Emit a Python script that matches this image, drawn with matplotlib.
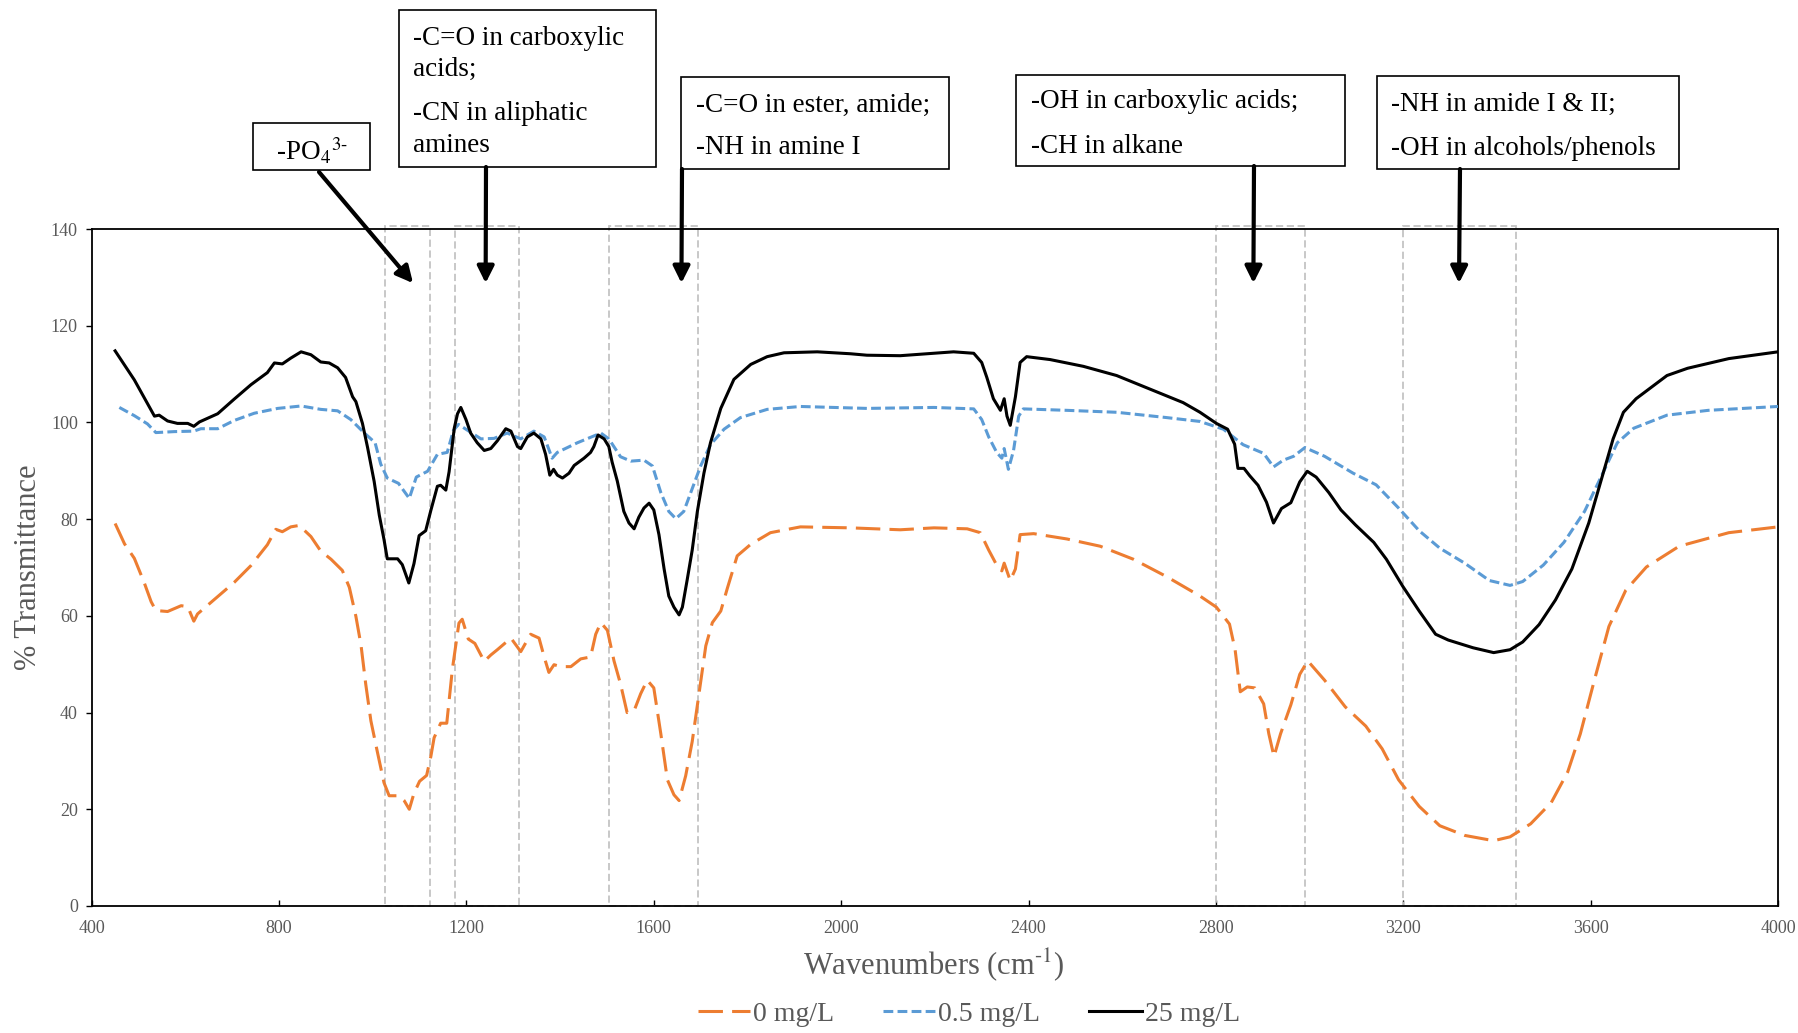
import matplotlib
matplotlib.use("Agg")
import matplotlib.pyplot as plt
from matplotlib.patches import Rectangle

plt.rcParams['font.family'] = ['Liberation Serif', 'DejaVu Serif']
plt.rcParams['mathtext.fontset'] = 'stix'

# ---------------- data ----------------
black_wn = [450, 491, 534, 544, 562, 583, 605, 618, 630, 669, 704, 740, 775, 790, 807, 825, 847, 868, 889, 907,
            925, 942, 957, 964, 978, 989, 1003, 1014, 1024, 1031, 1053, 1063, 1077, 1088, 1099, 1113, 1124, 1138,
            1145, 1156, 1163, 1174, 1181, 1188, 1199, 1209, 1223, 1238, 1252, 1266, 1284, 1295, 1309, 1316, 1330,
            1344, 1359, 1369, 1378, 1386, 1394, 1405, 1419, 1430, 1451, 1465, 1472, 1481, 1494, 1504, 1511, 1522,
            1536, 1547, 1558, 1568, 1579, 1590, 1600, 1611, 1622, 1632, 1643, 1654, 1661, 1671, 1682, 1693, 1707,
            1721, 1743, 1771, 1807, 1842, 1878, 1949, 2020, 2055, 2126, 2198, 2240, 2283, 2300, 2311, 2325, 2340,
            2348, 2354, 2361, 2372, 2382, 2396, 2446, 2517, 2588, 2659, 2730, 2766, 2801, 2825, 2840, 2847, 2860,
            2872, 2890, 2908, 2923, 2940, 2960, 2979, 2995, 3014, 3041, 3067, 3098, 3137, 3164, 3199, 3234, 3269,
            3296, 3349, 3393, 3428, 3455, 3490, 3525, 3560, 3596, 3622, 3648, 3670, 3697, 3763, 3807, 3895, 4000]
black_T = [114.8, 108.8, 101.3, 101.5, 100.3, 99.8, 99.8, 99.2, 100.1, 101.8, 104.8, 107.8, 110.3, 112.3, 112.1,
           113.3, 114.6, 114.0, 112.5, 112.3, 111.3, 109.3, 105.3, 104.3, 99.8, 94.8, 87.8, 80.8, 75.8, 71.8, 71.8,
           70.6, 66.8, 70.8, 76.6, 77.6, 81.8, 86.8, 87.0, 86.0, 89.8, 98.8, 101.8, 103.1, 100.6, 97.8, 95.8, 94.2,
           94.6, 96.2, 98.7, 98.2, 95.0, 94.6, 97.0, 97.8, 96.6, 93.4, 89.1, 90.3, 89.1, 88.5, 89.5, 91.1, 92.6,
           93.8, 95.0, 97.4, 96.6, 95.0, 91.8, 87.9, 81.6, 79.2, 78.0, 80.4, 82.3, 83.3, 81.9, 76.8, 69.7, 64.1,
           61.8, 60.2, 61.8, 67.3, 73.6, 81.6, 89.5, 95.8, 102.9, 108.9, 112.0, 113.6, 114.4, 114.6, 114.2, 113.9,
           113.8, 114.3, 114.6, 114.3, 112.4, 109.3, 104.9, 102.5, 104.9, 101.3, 99.4, 105.3, 112.4, 113.6, 113.0,
           111.6, 109.7, 106.9, 104.1, 102.1, 99.8, 98.6, 95.5, 90.5, 90.5, 89.0, 87.0, 83.5, 79.2, 82.2, 83.4,
           87.7, 89.9, 88.7, 85.5, 81.9, 78.8, 75.2, 71.7, 66.1, 61.0, 56.2, 55.0, 53.4, 52.4, 53.0, 54.6, 58.2,
           63.3, 69.7, 79.2, 87.9, 96.6, 102.1, 104.9, 109.7, 111.2, 113.2, 114.6]

blue_wn = [459, 491, 519, 537, 576, 618, 633, 669, 704, 747, 797, 847, 889, 925, 953, 980, 1005, 1017, 1031, 1055,
           1063, 1078, 1093, 1117, 1138, 1159, 1172, 1183, 1202, 1231, 1259, 1287, 1316, 1344, 1366, 1383, 1394,
           1437, 1487, 1504, 1529, 1551, 1579, 1597, 1615, 1632, 1647, 1664, 1682, 1700, 1721, 1750, 1785, 1842,
           1913, 2055, 2198, 2283, 2300, 2315, 2332, 2343, 2348, 2357, 2368, 2379, 2389, 2482, 2588, 2695, 2766,
           2816, 2837, 2858, 2902, 2923, 2944, 2966, 2990, 3032, 3093, 3142, 3190, 3234, 3278, 3331, 3384, 3428,
           3455, 3499, 3543, 3587, 3622, 3657, 3692, 3763, 3851, 4000]
blue_T = [103.1, 101.4, 99.7, 97.9, 98.1, 98.2, 98.7, 98.7, 100.4, 101.9, 102.9, 103.4, 102.7, 102.4, 100.6, 98.0,
          95.8, 91.4, 88.5, 87.4, 86.3, 84.3, 88.7, 89.9, 93.4, 93.8, 98.3, 99.6, 98.4, 96.6, 96.7, 97.8, 96.6,
          98.2, 97.0, 92.6, 93.8, 95.8, 97.8, 96.6, 92.9, 92.0, 92.2, 91.0, 85.5, 81.6, 80.1, 81.6, 86.3, 91.0,
          95.4, 98.6, 101.0, 102.7, 103.3, 102.9, 103.1, 102.8, 100.6, 97.0, 93.8, 92.6, 94.6, 90.3, 94.2, 101.3,
          102.8, 102.5, 102.1, 101.0, 100.2, 98.6, 97.0, 95.4, 93.6, 90.8, 92.2, 93.0, 94.8, 93.0, 89.5, 87.1,
          82.3, 77.6, 74.0, 70.9, 67.3, 66.3, 67.1, 70.5, 75.2, 81.6, 88.7, 95.8, 98.8, 101.5, 102.5, 103.3]

orange_wn = [450, 470, 491, 512, 527, 537, 562, 591, 605, 618, 626, 662, 704, 740, 775, 793, 807, 825, 843, 868,
             889, 911, 935, 950, 964, 975, 985, 996, 1010, 1024, 1035, 1056, 1067, 1078, 1088, 1100, 1115, 1124,
             1131, 1145, 1158, 1170, 1184, 1191, 1204, 1218, 1238, 1252, 1266, 1295, 1316, 1337, 1355, 1366, 1376,
             1387, 1401, 1423, 1444, 1465, 1476, 1487, 1501, 1515, 1529, 1543, 1558, 1572, 1586, 1600, 1615, 1629,
             1643, 1654, 1668, 1682, 1696, 1711, 1725, 1743, 1757, 1778, 1807, 1849, 1913, 2020, 2126, 2198, 2269,
             2297, 2315, 2332, 2343, 2348, 2361, 2372, 2382, 2411, 2482, 2553, 2624, 2695, 2766, 2801, 2829, 2841,
             2852, 2867, 2883, 2902, 2913, 2924, 2938, 2960, 2979, 2996, 3032, 3076, 3120, 3155, 3190, 3234, 3278,
             3331, 3393, 3428, 3472, 3516, 3551, 3578, 3608, 3639, 3675, 3719, 3789, 3895, 4000]
orange_T = [79.1, 74.9, 71.9, 66.9, 62.9, 61.1, 60.9, 62.1, 61.9, 58.9, 60.4, 63.4, 66.9, 70.4, 74.7, 77.9, 77.4,
            78.4, 78.7, 76.4, 73.4, 71.7, 69.4, 65.9, 59.9, 53.9, 45.9, 38.3, 31.8, 25.5, 22.8, 22.8, 21.8, 20.0,
            23.3, 25.8, 27.0, 30.9, 34.8, 37.8, 37.8, 49.0, 58.5, 59.3, 55.2, 54.3, 50.6, 51.9, 53.0, 55.4, 52.6,
            56.2, 55.4, 51.5, 48.3, 49.9, 49.5, 49.5, 51.1, 51.5, 56.2, 58.6, 57.0, 50.7, 45.9, 40.0, 40.4, 43.9,
            46.7, 45.1, 35.6, 26.1, 23.0, 21.8, 26.9, 34.0, 43.5, 53.8, 58.6, 61.0, 65.7, 72.4, 74.8, 77.2, 78.4,
            78.2, 77.8, 78.2, 78.0, 77.2, 73.6, 70.5, 69.3, 70.9, 67.3, 69.7, 76.8, 77.0, 75.9, 74.4, 71.7, 68.1,
            64.1, 61.8, 58.3, 53.0, 44.3, 45.3, 45.1, 41.8, 35.6, 30.9, 35.6, 41.6, 47.9, 50.7, 46.7, 41.2, 37.2,
            32.5, 26.1, 20.6, 16.6, 14.6, 13.5, 14.3, 17.0, 21.4, 27.7, 35.6, 46.7, 57.8, 65.3, 70.1, 74.4, 77.2, 78.4]

series_labels = ["0 mg/L", "0.5 mg/L", "25 mg/L"]

# highlighted wavenumber bands (start, end)
band_start = [1027, 1175, 1505, 2800, 3200]
band_end = [1122, 1313, 1695, 2990, 3440]

# annotation texts and the wavenumbers the arrows point to
annot_texts = [r"-PO$_4$$^{3\text{-}}$",
               "-C=O in carboxylic\nacids;\n-CN in aliphatic\namines",
               "-C=O in ester, amide;\n-NH in amine I",
               "-OH in carboxylic acids;\n-CH in alkane",
               "-NH in amide I & II;\n-OH in alcohols/phenols"]
arrow_wn = [1086, 1241, 1659, 2880, 3319]
arrow_T = 128.8

# ---------------- figure ----------------
W, H = 1798, 1033
fig = plt.figure(figsize=(W / 100, H / 100), dpi=100)


def fx(px):
    return px / W


def fy(py):
    return 1 - py / H


ax = fig.add_axes([fx(91.7), fy(906), fx(1778) - fx(91.7), fy(229) - fy(906)])

grey = '#595959'
ax.plot(orange_wn, orange_T, color='#ED7D31', lw=2.2, ls=(0, (8, 3)), label=series_labels[0], zorder=3)
ax.plot(blue_wn, blue_T, color='#5B9BD5', lw=2.2, ls=(0, (3.2, 1.4)), label=series_labels[1], zorder=3)
ax.plot(black_wn, black_T, color='black', lw=2.2, ls='-', label=series_labels[2], zorder=4)

for s, e in zip(band_start, band_end):
    ax.add_patch(Rectangle((s, 0), e - s, 140.6, fill=False, edgecolor='#c4c4c4', ls=(0, (4, 2)),
                           lw=1.3, clip_on=False, zorder=2))

ax.set_xlim(400, 4000)
ax.set_ylim(0, 140)
ax.set_xticks(range(400, 4001, 400))
ax.set_yticks(range(0, 141, 20))
ax.tick_params(axis='x', direction='in', length=4, width=1, labelsize=13, labelcolor=grey, pad=10)
ax.tick_params(axis='y', direction='out', length=4, width=1, labelsize=13, labelcolor=grey, pad=6)
for sp in ax.spines.values():
    sp.set_linewidth(1.3)
    sp.set_color('black')

fig.text(fx(29), fy(567), "% Transmittance", rotation=90, ha='center', va='center', fontsize=22, color=grey)
fig.text(fx(934), fy(965), r"Wavenumbers (cm$^{\text{-}1}$)", ha='center', va='center', fontsize=22, color=grey)

leg = fig.legend(loc='center', bbox_to_anchor=(0.5387, fy(1014)), ncol=3, frameon=False, fontsize=20,
                 handlelength=1.9, handletextpad=0.1, columnspacing=1.75, labelcolor=grey)

# annotation boxes (pixel coords: x0, y0, x1, y1 from top-left)
boxes = [(253, 123, 370, 170), (399, 10, 656, 167), (681, 77, 949, 169), (1016, 75, 1345, 166),
         (1377, 76, 1679, 169)]
for (x0, y0, x1, y1) in boxes:
    fig.add_artist(Rectangle((fx(x0), fy(y1)), fx(x1) - fx(x0), fy(y0) - fy(y1), fill=False,
                             edgecolor='black', lw=1.2, transform=fig.transFigure))

# texts
fig.text(fx(312), fy(151), annot_texts[0], ha='center', va='center', fontsize=19.5)
line_y = [[38.5, 69.5, 114, 146], [105, 147.5], [101.6, 146.3], [104, 148.6]]
text_x = [413, 696, 1031, 1391]
for t, xs, ys in zip(annot_texts[1:], text_x, line_y):
    for line, yy in zip(t.split("\n"), ys):
        fig.text(fx(xs), fy(yy), line, ha='left', va='center', fontsize=19.5)

# arrows
arrow_start = [(319, 172), (486, 167), (682, 169), (1254, 166), (1460, 169)]
for (sx, sy), wn in zip(arrow_start, arrow_wn):
    ax.annotate("", xy=(wn, arrow_T), xycoords='data',
                xytext=(fx(sx), fy(sy)), textcoords='figure fraction',
                arrowprops=dict(arrowstyle='-|>,head_length=1.0,head_width=0.5', color='black', lw=3,
                                shrinkA=0, shrinkB=0),
                annotation_clip=False)

fig.savefig("out.png", dpi=100)
